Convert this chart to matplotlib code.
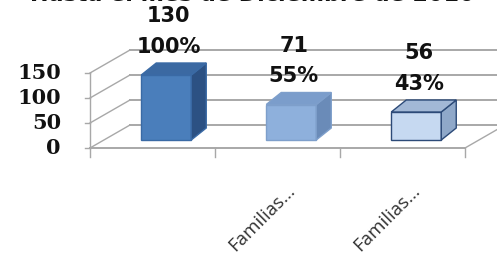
import matplotlib.pyplot as plt
from matplotlib.patches import Polygon

title = "Hasta el mes de Diciembre de 2010"
categories = ["", "Familias...", "Familias..."]
counts = [130, 71, 56]
percents = [100, 55, 43]
yticks = [0, 50, 100, 150]

front_colors = ["#4a7ebb", "#8eb0dc", "#c6d9f1"]
side_colors = ["#2c5183", "#6a8bb8", "#8fa8c9"]
top_colors = ["#3b69a2", "#7b9dcb", "#a2b8d6"]
edge_colors = ["#3a6aa5", "#7e9fcb", "#2c4a78"]

# pixel -> data helpers (axes spans the whole figure)
W, H = 497, 257
X0, XS = 90, 125.0    # px of left edge of first category, px per category
Y0, YS = 148, 0.5     # px of value 0, px per unit

def px(x):
    return (x - X0) / XS - 0.5

def py(y):
    return (Y0 - y) / YS

fig = plt.figure(figsize=(W / 100, H / 100), dpi=100)
ax = fig.add_axes([0, 0, 1, 1])
ax.set_xlim(px(0), px(W))
ax.set_ylim(py(H), py(0))
ax.axis("off")

wall_dx, wall_dy = 40 / XS, 23 / YS     # depth of the chart box
bar_ox, bar_oy = 0.11, 16               # bar front offset from front plane
bar_w = 0.4
bar_dx, bar_dy = 0.12, 24               # depth of each bar
grid_c = "#a8a8a8"
n = len(categories)
xl, xr = -0.5, n - 0.5

# back wall gridlines and left wall diagonals
for t in yticks:
    ax.plot([xl + wall_dx, xr + wall_dx], [t + wall_dy, t + wall_dy], color=grid_c, lw=1.4, zorder=1)
    ax.plot([xl, xl + wall_dx], [t, t + wall_dy], color=grid_c, lw=1.0, zorder=1)
    ax.plot([xl - 0.04, xl], [t, t], color=grid_c, lw=1.0, zorder=1)
    ax.text(px(61), t, str(t), ha="right", va="center", fontsize=15,
            fontweight="bold", family="DejaVu Serif", color="#111111")

# left wall front edge and floor
ax.plot([xl, xl], [0, max(yticks)], color=grid_c, lw=1.0, zorder=1)
ax.plot([xl, xr], [0, 0], color=grid_c, lw=1.4, zorder=1)
ax.plot([xr, xr + wall_dx], [0, wall_dy], color=grid_c, lw=1.0, zorder=1)
for k in range(n + 1):
    ax.plot([xl + k, xl + k], [0, -18], color=grid_c, lw=1.0, zorder=1)

# bars
for i, v in enumerate(counts):
    xc = i + bar_ox
    ax.bar(xc, v, width=bar_w, bottom=bar_oy, color=front_colors[i],
           edgecolor=edge_colors[i], lw=1.0, zorder=3)
    l, r = xc - bar_w / 2, xc + bar_w / 2
    b, t = bar_oy, bar_oy + v
    side = [(r, b), (r + bar_dx, b + bar_dy), (r + bar_dx, t + bar_dy), (r, t)]
    top = [(l, t), (l + bar_dx, t + bar_dy), (r + bar_dx, t + bar_dy), (r, t)]
    ax.add_patch(Polygon(side, closed=True, fc=side_colors[i], ec=edge_colors[i], lw=1.0, zorder=3))
    ax.add_patch(Polygon(top, closed=True, fc=top_colors[i], ec=edge_colors[i], lw=1.0, zorder=3))
    ytop = t + bar_dy
    ax.text(xc + 0.02, ytop + 32, f"{percents[i]}%", ha="center", va="center",
            fontsize=15, fontweight="bold", color="#111111", zorder=4)
    ax.text(xc + 0.02, ytop + 94, str(v), ha="center", va="center",
            fontsize=15, fontweight="bold", color="#111111", zorder=4)

# category labels
for i, c in enumerate(categories):
    if c:
        ax.text(i + 0.17, py(181), c, rotation=45, ha="right", va="top",
                fontsize=13.5, family="Open Sans", color="#333333")

# title (cut at top edge like the original)
ax.text(px(252), py(-5), title, ha="center", va="center", fontsize=16,
        fontweight="bold", color="#111111")

fig.savefig("out.png", dpi=100)
